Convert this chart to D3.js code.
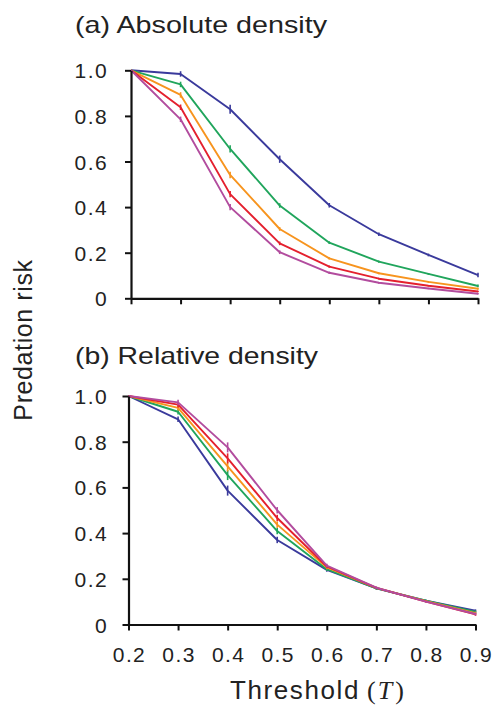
<!DOCTYPE html>
<html><head><meta charset="utf-8">
<script src="https://cdn.jsdelivr.net/npm/d3@7"></script>
<style>
html,body{margin:0;padding:0;background:#fff;}
svg{display:block;}
text{font-family:"Liberation Sans",Arial,Helvetica,sans-serif;fill:#222;}
</style></head>
<body>
<script>
const thresholds = [0.2,0.3,0.4,0.5,0.6,0.7,0.8,0.9];
const seriesNames = ["s1","s2","s3","s4","s5"];
const seriesColors = ["#3a3a9c","#20a55c","#f7941e","#e4202e","#b24c9e"];

// (a) Absolute density
const absS1 = [1.0,0.984,0.829,0.610,0.408,0.281,0.190,0.102];
const absS2 = [1.0,0.938,0.655,0.407,0.244,0.161,0.107,0.054];
const absS3 = [1.0,0.892,0.541,0.304,0.175,0.110,0.072,0.042];
const absS4 = [1.0,0.838,0.457,0.241,0.139,0.086,0.055,0.030];
const absS5 = [1.0,0.785,0.400,0.202,0.112,0.068,0.043,0.020];
const absErr1 = [0,0.012,0.020,0.016,0.010,0.008,0.006,0.010];
const absErr2 = [0,0.012,0.016,0.010,0.006,0.005,0.004,0.006];
const absErr3 = [0,0.012,0.014,0.008,0.005,0.004,0.004,0.004];
const absErr4 = [0,0.012,0.014,0.008,0.005,0.004,0.003,0.003];
const absErr5 = [0,0.012,0.014,0.008,0.005,0.004,0.003,0.003];

// (b) Relative density
const relS1 = [1.0,0.898,0.586,0.370,0.239,0.158,0.104,0.060];
const relS2 = [1.0,0.931,0.654,0.409,0.242,0.158,0.104,0.055];
const relS3 = [1.0,0.948,0.692,0.437,0.250,0.160,0.102,0.050];
const relS4 = [1.0,0.962,0.727,0.466,0.254,0.160,0.100,0.044];
const relS5 = [1.0,0.972,0.775,0.500,0.258,0.161,0.100,0.046];
const relErr = [0,0.012,0.022,0.014,0.008,0.005,0.004,0.006];

const yTicks = [0,0.2,0.4,0.6,0.8,1.0];
const xTickLabels = ["0.2","0.3","0.4","0.5","0.6","0.7","0.8","0.9"];

const W = 493, H = 707;
const svg = d3.select("body").append("svg").attr("width",W).attr("height",H);

function panel(cfg){
  const x = d3.scaleLinear().domain([0.2,0.9]).range([cfg.x0,cfg.x1]);
  const y = d3.scaleLinear().domain([0,1]).range([cfg.y0,cfg.y1]);
  const g = svg.append("g");
  cfg.series.forEach((vals,i)=>{
    const data = thresholds.map((t,j)=>({t, v:vals[j], e:cfg.errs[i][j]}));
    g.append("path").datum(data)
      .attr("fill","none").attr("stroke",seriesColors[i]).attr("stroke-width",1.9)
      .attr("stroke-linejoin","round")
      .attr("d", d3.line().x(d=>x(d.t)).y(d=>y(d.v)));
    g.selectAll(null).data(data.filter(d=>d.e>0)).enter().append("line")
      .attr("x1",d=>x(d.t)).attr("x2",d=>x(d.t))
      .attr("y1",d=>y(d.v+d.e)).attr("y2",d=>y(d.v-d.e))
      .attr("stroke",seriesColors[i]).attr("stroke-width",1.6);
  });
  const xa = g.append("g").attr("transform",`translate(0,${cfg.y0})`)
    .call(d3.axisBottom(x).tickValues(thresholds).tickSize(6).tickSizeOuter(0)
      .tickFormat((d,i)=> cfg.showX ? xTickLabels[i] : ""));
  const ya = g.append("g").attr("transform",`translate(${cfg.x0},0)`)
    .call(d3.axisLeft(y).tickValues(yTicks).tickSize(6).tickSizeOuter(0)
      .tickFormat(d=> d===0 ? "0" : d.toFixed(1)));
  [xa,ya].forEach(a=>{
    a.select(".domain").attr("stroke","#111").attr("stroke-width",2.2);
    a.selectAll(".tick line").attr("stroke","#111").attr("stroke-width",2);
    a.selectAll(".tick text").attr("fill","#222").style("font-size","21px")
      .style("letter-spacing","1.4px")
      .style("font-family",'"Liberation Sans",Arial,sans-serif');
  });
  ya.selectAll(".tick text").attr("x",-(cfg.x0-108)).attr("dy","0.36em");
  xa.selectAll(".tick text").attr("y",23).attr("dx","0.5px");
  svg.append("text").attr("x",75).attr("y",cfg.titleY)
    .attr("textLength",cfg.titleLen).attr("lengthAdjust","spacingAndGlyphs")
    .style("font-size","24px").text(cfg.title);
}

panel({x0:131,x1:478,y0:298.3,y1:70.3,series:[absS1,absS2,absS3,absS4,absS5],
  errs:[absErr1,absErr2,absErr3,absErr4,absErr5],showX:false,
  title:"(a) Absolute density",titleY:33,titleLen:252});
panel({x0:128.5,x1:475.5,y0:624.5,y1:396,series:[relS1,relS2,relS3,relS4,relS5],
  errs:[relErr,relErr,relErr,relErr,relErr],showX:true,
  title:"(b) Relative density",titleY:364,titleLen:243});

// y label
svg.append("text").attr("transform","translate(32,340) rotate(-90)")
  .attr("text-anchor","middle").style("font-size","25px").style("letter-spacing","0.6px")
  .text("Predation risk");
// x label
const xl = svg.append("text").attr("x",230).attr("y",699).style("font-size","26px");
xl.append("tspan").style("letter-spacing","1.6px").text("Threshold");
const serif = '"Liberation Serif","DejaVu Serif",serif';
xl.append("tspan").attr("dx",7).style("font-family",serif).text("(");
xl.append("tspan").attr("dx",2).style("font-family",serif).style("font-style","italic").text("T");
xl.append("tspan").attr("dx",3).style("font-family",serif).text(")");
</script>
</body></html>
